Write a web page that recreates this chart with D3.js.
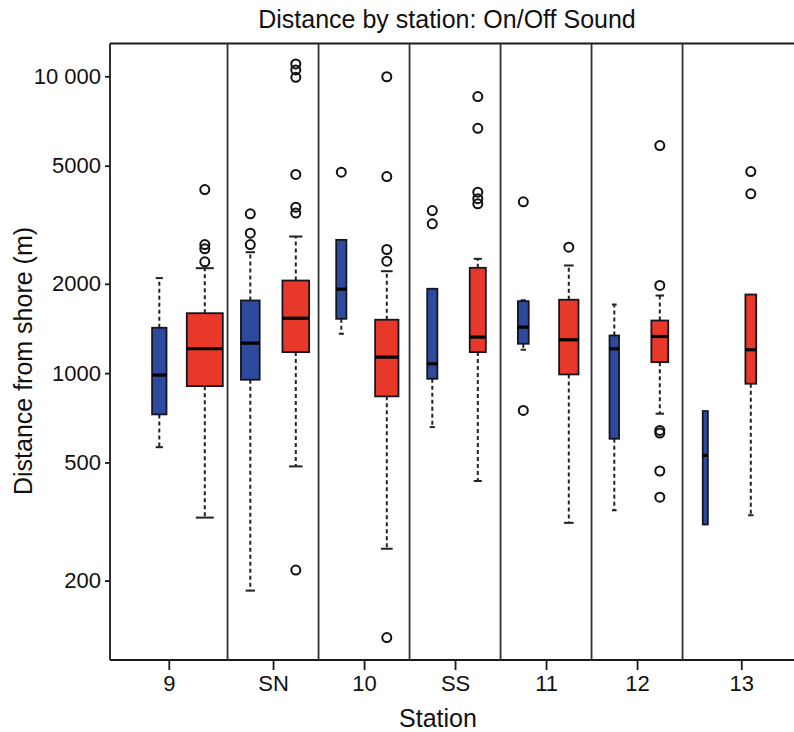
<!DOCTYPE html>
<html>
<head>
<meta charset="utf-8">
<script src="https://cdn.jsdelivr.net/npm/d3@7"></script>
<style>
  body { margin: 0; background: #fff; }
  svg text { font-family: "Liberation Sans", Arial, sans-serif; fill: #111; }
</style>
</head>
<body>
<div id="canvas"></div>
<script>
// stations along the x axis
var stations = ["9", "SN", "10", "SS", "11", "12", "13"];
var yTickValues = [200, 500, 1000, 2000, 5000, 10000];
var yTickLabels = ["200", "500", "1000", "2000", "5000", "10 000"];

// blue boxes (On)
var onLow = [563, 185, 1357, 658, 1199, 345, 309];
var onQ1 = [726, 950, 1524, 957, 1256, 601, 309];
var onMed = [985, 1262, 1918, 1075, 1429, 1208, 528];
var onQ3 = [1422, 1757, 2812, 1924, 1747, 1339, 745];
var onHigh = [2090, 2555, 2812, 1924, 1760, 1703, 745];
var onN = [16, 27, 8, 8, 9, 7, 2];
var onOut = [[], [3441, 2962, 2711], [4752], [3530, 3185], [3776, 749], [], []];

// red boxes (Off)
var offLow = [326, 485, 256, 433, 313, 730, 332];
var offQ1 = [904, 1177, 835, 1177, 990, 1089, 921];
var offMed = [1208, 1531, 1132, 1322, 1295, 1329, 1199];
var offQ3 = [1592, 2051, 1513, 2264, 1767, 1504, 1840];
var offHigh = [2257, 2886, 2205, 2427, 2305, 1826, 1840];
var offN = [100, 55, 42, 20, 29, 22, 9];
var offOut = [[4155, 2711, 2623, 2372], [11010, 10510, 9922, 4670, 3624, 3460, 217],
  [9968, 4596, 2609, 2384, 128.5], [8548, 6683, 4070, 3870, 3720], [2656],
  [5845, 1974, 641, 628, 468, 382], [4776, 4018]];

var w = 794, h = 732;
var plotLeft = 110, plotRight = 800, plotTop = 43.5, plotBottom = 660;

var svg = d3.select("#canvas").append("svg")
  .attr("width", w)
  .attr("height", h);

// one slot per box: blue at 2i+1, red at 2i+2
var x = d3.scaleLinear().domain([1, 14]).range([159.3, 750.8]);
var y = d3.scaleLog().domain([108, 12900]).range([plotBottom, plotTop]);
var widthScale = d3.scaleSqrt().domain([0, 100]).range([0, 36]);

var boxes = [];
stations.forEach(function (s, i) {
  boxes.push({ pos: 2 * i + 1, fill: "#2d4a9e", low: onLow[i], q1: onQ1[i], med: onMed[i],
    q3: onQ3[i], high: onHigh[i], n: onN[i], out: onOut[i] });
  boxes.push({ pos: 2 * i + 2, fill: "#e8382a", low: offLow[i], q1: offQ1[i], med: offMed[i],
    q3: offQ3[i], high: offHigh[i], n: offN[i], out: offOut[i] });
});

// panel edges and tick centers
var edges = [plotLeft];
for (var i = 1; i < stations.length; i++) edges.push(x(2 * i + 0.5));
edges.push(plotRight);
var xTick = d3.scaleOrdinal()
  .domain(stations)
  .range(stations.map(function (s, i) { return (edges[i] + edges[i + 1]) / 2; }));

// frame
var frame = svg.append("g").attr("stroke", "#1a1a1a").attr("stroke-width", 1.8);
frame.append("line").attr("x1", plotLeft).attr("x2", w).attr("y1", plotTop).attr("y2", plotTop);
frame.append("line").attr("x1", plotLeft).attr("x2", w).attr("y1", plotBottom).attr("y2", plotBottom);
frame.append("line").attr("x1", plotLeft).attr("x2", plotLeft).attr("y1", plotTop).attr("y2", plotBottom);
frame.selectAll("line.div")
  .data(edges.slice(1, -1))
  .join("line")
  .attr("class", "div")
  .attr("x1", function (d) { return d; })
  .attr("x2", function (d) { return d; })
  .attr("y1", plotTop)
  .attr("y2", plotBottom)
  .attr("stroke", "#2a3333");

// whiskers
var g = svg.append("g");
var bw = function (d) { return widthScale(d.n); };
g.selectAll("line.whiskHi").data(boxes).join("line")
  .attr("x1", function (d) { return x(d.pos); })
  .attr("x2", function (d) { return x(d.pos); })
  .attr("y1", function (d) { return y(d.q3); })
  .attr("y2", function (d) { return y(d.high); })
  .attr("stroke", "#222").attr("stroke-width", 2).attr("stroke-dasharray", "4,3");
g.selectAll("line.whiskLo").data(boxes).join("line")
  .attr("x1", function (d) { return x(d.pos); })
  .attr("x2", function (d) { return x(d.pos); })
  .attr("y1", function (d) { return y(d.q1); })
  .attr("y2", function (d) { return y(d.low); })
  .attr("stroke", "#222").attr("stroke-width", 2).attr("stroke-dasharray", "4,3");
["high", "low"].forEach(function (k) {
  g.selectAll("line.cap-" + k).data(boxes.filter(function (d) { return d[k] !== d.q1 && d[k] !== d.q3; }))
    .join("line")
    .attr("x1", function (d) { return x(d.pos) - bw(d) / 4; })
    .attr("x2", function (d) { return x(d.pos) + bw(d) / 4; })
    .attr("y1", function (d) { return y(d[k]); })
    .attr("y2", function (d) { return y(d[k]); })
    .attr("stroke", "#222").attr("stroke-width", 2);
});

// boxes
g.selectAll("rect.box").data(boxes).join("rect")
  .attr("x", function (d) { return x(d.pos) - bw(d) / 2; })
  .attr("width", bw)
  .attr("y", function (d) { return y(d.q3); })
  .attr("height", function (d) { return y(d.q1) - y(d.q3); })
  .attr("fill", function (d) { return d.fill; })
  .attr("stroke", "#15151f").attr("stroke-width", 1.8);
g.selectAll("line.med").data(boxes).join("line")
  .attr("x1", function (d) { return x(d.pos) - bw(d) / 2; })
  .attr("x2", function (d) { return x(d.pos) + bw(d) / 2; })
  .attr("y1", function (d) { return y(d.med); })
  .attr("y2", function (d) { return y(d.med); })
  .attr("stroke", "#000").attr("stroke-width", 3.2);

// outliers
var outPts = [];
boxes.forEach(function (b) { b.out.forEach(function (v) { outPts.push({ pos: b.pos, v: v }); }); });
g.selectAll("circle").data(outPts).join("circle")
  .attr("cx", function (d) { return x(d.pos); })
  .attr("cy", function (d) { return y(d.v); })
  .attr("r", 4.5)
  .attr("fill", "none")
  .attr("stroke", "#111").attr("stroke-width", 2);

// axes
var yAxis = svg.append("g")
  .attr("transform", "translate(" + plotLeft + ",0)")
  .call(d3.axisLeft(y).tickValues(yTickValues).tickSize(5).tickPadding(4)
    .tickFormat(function (d, i) { return yTickLabels[i]; }));
yAxis.select(".domain").remove();
yAxis.selectAll("line").attr("stroke", "#1a1a1a").attr("stroke-width", 1.8);
yAxis.selectAll("text").style("font-size", "22px").attr("fill", "#111");

var xAxis = svg.append("g")
  .attr("transform", "translate(0," + plotBottom + ")")
  .call(d3.axisBottom(xTick).tickSize(10).tickPadding(5));
xAxis.select(".domain").remove();
xAxis.selectAll("line").attr("stroke", "#1a1a1a").attr("stroke-width", 1.8);
xAxis.selectAll("text").style("font-size", "22px").attr("fill", "#111");

// titles
svg.append("text")
  .attr("x", 447).attr("y", 28)
  .attr("text-anchor", "middle")
  .style("font-size", "25px")
  .text("Distance by station: On/Off Sound");
svg.append("text")
  .attr("x", 438).attr("y", 727)
  .attr("text-anchor", "middle")
  .style("font-size", "25px")
  .text("Station");
svg.append("text")
  .attr("transform", "translate(32,361) rotate(-90)")
  .attr("text-anchor", "middle")
  .style("font-size", "25px")
  .text("Distance from shore (m)");
</script>
</body>
</html>
